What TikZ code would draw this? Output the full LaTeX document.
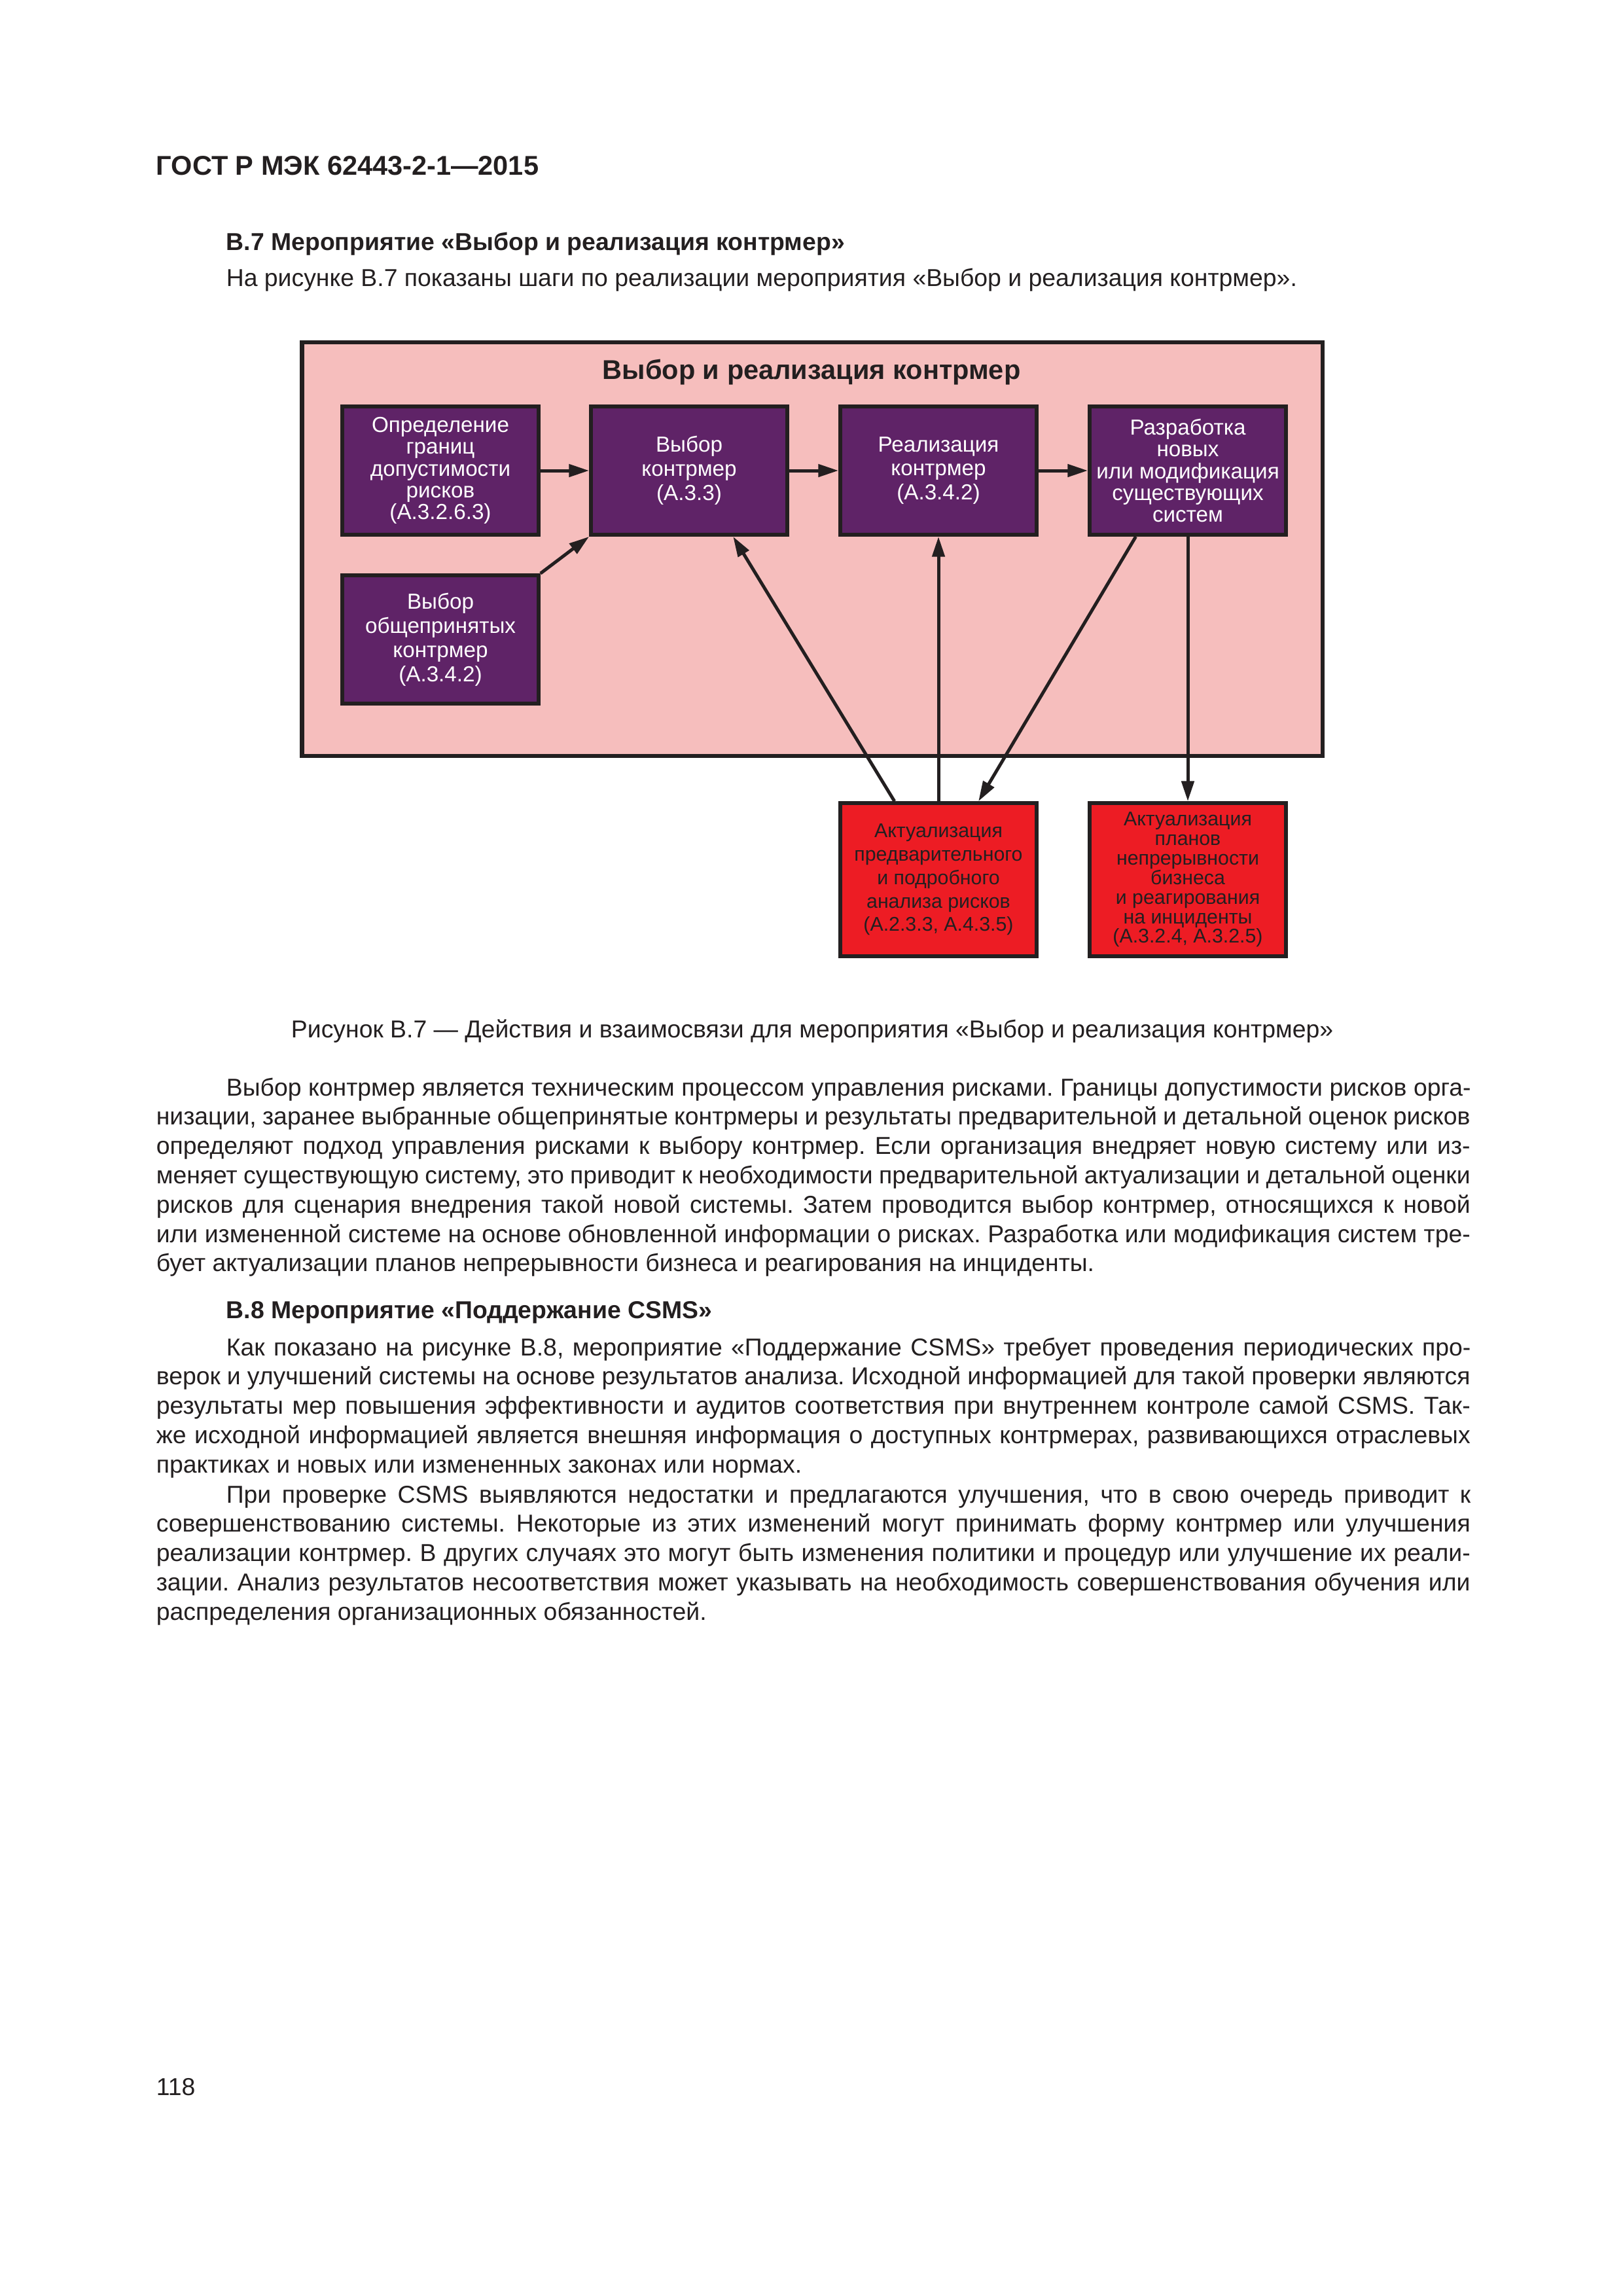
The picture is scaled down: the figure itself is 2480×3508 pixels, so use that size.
\documentclass[tikz,border=0pt]{standalone}
\usepackage{fontspec}
\setmainfont{Liberation Sans}
\usetikzlibrary{arrows.meta,calc}
\frenchspacing

\definecolor{inkblack}{HTML}{231F20}
\definecolor{stagepurple}{HTML}{5F2367}
\definecolor{panelpink}{HTML}{F6BEBD}
\definecolor{updatered}{HTML}{ED1C24}

% one justified line of the page text
\newcommand{\jl}[2][170mm]{\makebox[#1][s]{#2}}

\begin{document}
\begin{tikzpicture}[x=0.0846667mm, y=-0.0846667mm]
		\tikzstyle{txt}=[anchor=base west, inner sep=0pt, text=inkblack, font=\fontsize{9}{10.8}\selectfont]
		\tikzstyle{head}=[txt, font=\fontsize{9}{10.8}\selectfont\bfseries]
		\tikzstyle{panel}=[rectangle, draw=inkblack, fill=panelpink, line width=1.45pt, minimum width=132mm, minimum height=53.5mm, inner sep=0pt]
		\tikzstyle{stage}=[rectangle, draw=inkblack, fill=stagepurple, line width=1.4pt, minimum width=25.4mm, minimum height=16.6mm, inner sep=0pt, align=center, text=white, font=\fontsize{8}{8.9}\selectfont]
		\tikzstyle{update}=[stage, fill=updatered, text=inkblack, minimum height=19.8mm, font=\fontsize{7.3}{8.6}\selectfont]
		\tikzstyle{flow}=[draw=inkblack, line width=1.2pt, -{Triangle[length=2.6mm,width=1.6mm]}]

		\useasboundingbox (0,0) rectangle (2480,3508);
		\fill[white] (0,0) rectangle (2480,3508);

		% page head
		\node [txt, font=\fontsize{10}{12}\selectfont\bfseries] (gost) at (238,267) {ГОСТ Р МЭК 62443-2-1—2015};
		\node [head] (b7) at (345,382) {В.7 Мероприятие «Выбор и реализация контрмер»};
		\node [txt] (intro) at (345,437) {На рисунке В.7 показаны шаги по реализации мероприятия «Выбор и реализация контрмер».};

		% figure
		\begin{scope}
			\node [panel] (frame) at (1241,839) {};
			\node [anchor=base, inner sep=0pt, text=inkblack, font=\fontsize{10}{12}\selectfont\bfseries] (ttl) at (1240,579) {Выбор и реализация контрмер};
			\node [stage, font=\fontsize{8}{8}\selectfont] (limits) at (673,719) {Определение\\границ\\допустимости\\рисков\\(А.3.2.6.3)};
			\node [stage] (select) at (1053,719) {Выбор\\контрмер\\(А.3.3)};
			\node [stage] (implement) at (1434,719) {Реализация\\контрмер\\(А.3.4.2)};
			\node [stage, font=\fontsize{8}{8}\selectfont] (develop) at (1815,719) {Разработка\\новых\\или модификация\\существующих\\систем};
			\node [stage] (common) at (673,977) {Выбор\\общепринятых\\контрмер\\(А.3.4.2)};
			\node [update] (risk) at (1434,1344) {Актуализация\\предварительного\\и подробного\\анализа рисков\\(А.2.3.3, А.4.3.5)};
			\node [update, font=\fontsize{7.3}{7.2}\selectfont] (plans) at (1815,1344) {Актуализация\\планов\\непрерывности\\бизнеса\\и реагирования\\на инциденты\\(А.3.2.4, А.3.2.5)};
			\path[flow] (limits) -- (select);
			\path[flow] (select) -- (implement);
			\path[flow] (implement) -- (develop);
			\path[flow] (common.north east) -- (select.south west);
			\path[flow] ($(risk.north west)!0.28!(risk.north east)$) -- ($(select.south west)!0.72!(select.south east)$);
			\path[flow] (risk) -- (implement);
			\path[flow] ($(develop.south west)!0.24!(develop.south east)$) -- ($(risk.north west)!0.70!(risk.north east)$);
			\path[flow] (develop) -- (plans);
		\end{scope}

		\node [txt, anchor=base] (caption) at (1241,1585) {Рисунок В.7 — Действия и взаимосвязи для мероприятия «Выбор и реализация контрмер»};

		% text after the figure
		\node [txt] (p1a) at (345,1674) {\jl[161mm]{Выбор контрмер является техническим процессом управления рисками. Границы допустимости рисков орга-}};
		\node [txt] (p1b) at (238,1718.8) {\jl{низации, заранее выбранные общепринятые контрмеры и результаты предварительной и детальной оценок рисков}};
		\node [txt] (p1c) at (238,1763.6) {\jl{определяют подход управления рисками к выбору контрмер. Если организация внедряет новую систему или из-}};
		\node [txt] (p1d) at (238,1808.4) {\jl{меняет существующую систему, это приводит к необходимости предварительной актуализации и детальной оценки}};
		\node [txt] (p1e) at (238,1853.2) {\jl{рисков для сценария внедрения такой новой системы. Затем проводится выбор контрмер, относящихся к новой}};
		\node [txt] (p1f) at (238,1898) {\jl{или измененной системе на основе обновленной информации о рисках. Разработка или модификация систем тре-}};
		\node [txt] (p1g) at (238,1942.8) {бует актуализации планов непрерывности бизнеса и реагирования на инциденты.};

		\node [head] (b8) at (345,2014) {В.8 Мероприятие «Поддержание CSMS»};

		\node [txt] (p2a) at (345,2071) {\jl[161mm]{Как показано на рисунке В.8, мероприятие «Поддержание CSMS» требует проведения периодических про-}};
		\node [txt] (p2b) at (238,2115.8) {\jl{верок и улучшений системы на основе результатов анализа. Исходной информацией для такой проверки являются}};
		\node [txt] (p2c) at (238,2160.6) {\jl{результаты мер повышения эффективности и аудитов соответствия при внутреннем контроле самой CSMS. Так-}};
		\node [txt] (p2d) at (238,2205.4) {\jl{же исходной информацией является внешняя информация о доступных контрмерах, развивающихся отраслевых}};
		\node [txt] (p2e) at (238,2250.2) {практиках и новых или измененных законах или нормах.};

		\node [txt] (p3a) at (345,2296) {\jl[161mm]{При проверке CSMS выявляются недостатки и предлагаются улучшения, что в свою очередь приводит к}};
		\node [txt] (p3b) at (238,2340.8) {\jl{совершенствованию системы. Некоторые из этих изменений могут принимать форму контрмер или улучшения}};
		\node [txt] (p3c) at (238,2385.6) {\jl{реализации контрмер. В других случаях это могут быть изменения политики и процедур или улучшение их реали-}};
		\node [txt] (p3d) at (238,2430.4) {\jl{зации. Анализ результатов несоответствия может указывать на необходимость совершенствования обучения или}};
		\node [txt] (p3e) at (238,2475.2) {распределения организационных обязанностей.};

		\node [txt] (folio) at (238,3201) {118};
\end{tikzpicture}
\end{document}
